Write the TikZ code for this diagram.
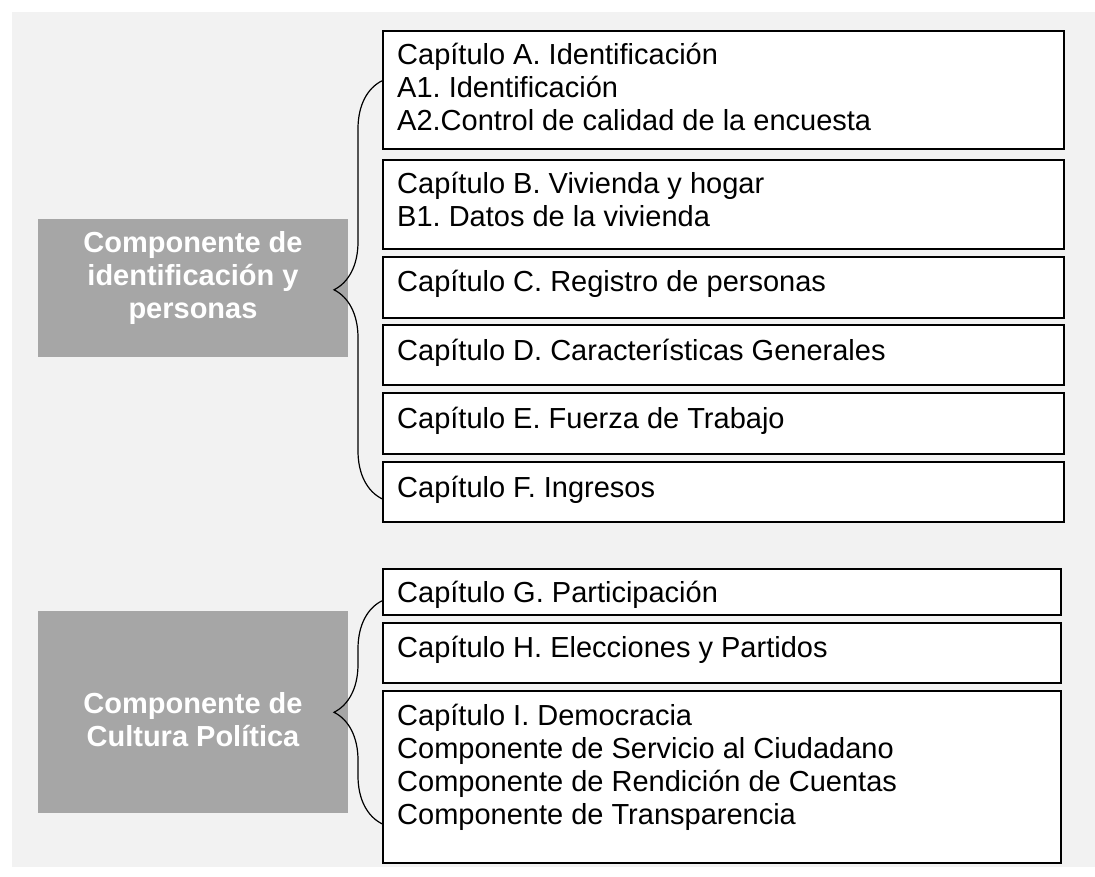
\documentclass[tikz,border=0pt]{standalone}
\usepackage{fontspec}
\setmainfont{Liberation Sans}
\usetikzlibrary{positioning,decorations.pathreplacing}
\frenchspacing
\definecolor{backgr}{HTML}{F2F2F2}
\definecolor{compgray}{HTML}{A6A6A6}
\tikzstyle{chapter} = [draw, line width=1.6pt, fill=white, anchor=north west, minimum width=681pt, inner sep=0pt]
\tikzstyle{chaptext} = [anchor=base west, align=left, inner sep=0pt, font=\fontsize{29}{33}\selectfont]
\tikzstyle{component} = [fill=compgray, anchor=north west, minimum width=310pt, inner sep=0pt]
\tikzstyle{comptext} = [anchor=base, align=center, text=white, inner sep=0pt, font=\fontsize{29}{33}\selectfont\bfseries]
\tikzstyle{bracket} = [draw, line width=1.2pt, decorate, decoration={brace, amplitude=48pt}]

\begin{document}
\begin{tikzpicture}[x=1pt, y=-1pt]
		\useasboundingbox (0,0) rectangle (1095,877);
		\fill[backgr] (12,12) rectangle (1095,867);
		% componentes (base = ultima linea)
		\node[component, minimum height=138pt] (ident) at (38,219) {};
		\node[component, minimum height=202pt] (cultura) at (38,611) {};
		\node[comptext] (identtxt) at (193,319) {Componente de\\identificación y\\personas};
		\node[comptext] (culturatxt) at (193,746) {Componente de\\Cultura Política};
		% capitulos
		\node[chapter, minimum height=118pt] (capa) at (382,30) {};
		\node[chapter, minimum height=89pt] (capb) at (382,159) {};
		\node[chapter, minimum height=61pt] (capc) at (382,256) {};
		\node[chapter, minimum height=60pt] (capd) at (382,324) {};
		\node[chapter, minimum height=61pt] (cape) at (382,392) {};
		\node[chapter, minimum height=60pt] (capf) at (382,461) {};
		\node[chapter, minimum width=678pt, minimum height=46pt] (capg) at (382,568) {};
		\node[chapter, minimum width=678pt, minimum height=60pt] (caph) at (382,622) {};
		\node[chapter, minimum width=678pt, minimum height=172pt] (capi) at (382,690) {};
		\node[chaptext] (capatxt) at ([shift={(15,101)}]capa.north west) {Capítulo A. Identificación\\A1. Identificación\\A2.Control de calidad de la encuesta};
		\node[chaptext] (capbtxt) at ([shift={(15,68)}]capb.north west) {Capítulo B. Vivienda y hogar\\B1. Datos de la vivienda};
		\node[chaptext] (capctxt) at ([shift={(15,36)}]capc.north west) {Capítulo C. Registro de personas};
		\node[chaptext] (capdtxt) at ([shift={(15,36)}]capd.north west) {Capítulo D. Características Generales};
		\node[chaptext] (capetxt) at ([shift={(15,36)}]cape.north west) {Capítulo E. Fuerza de Trabajo};
		\node[chaptext] (capftxt) at ([shift={(15,36)}]capf.north west) {Capítulo F. Ingresos};
		\node[chaptext] (capgtxt) at ([shift={(15,34)}]capg.north west) {Capítulo G. Participación};
		\node[chaptext] (caphtxt) at ([shift={(15,35)}]caph.north west) {Capítulo H. Elecciones y Partidos};
		\node[chaptext] (capitxt) at ([shift={(15,134)}]capi.north west) {Capítulo I. Democracia\\Componente de Servicio al Ciudadano\\Componente de Rendición de Cuentas\\Componente de Transparencia};
		% llaves
		\coordinate (ltop) at ([yshift=9pt]capa.west);
		\coordinate (lbot) at ([yshift=-7pt]capf.west);
		\coordinate (mtop) at ([yshift=-9pt]capg.west);
		\coordinate (mbot) at ([yshift=-47pt]capi.west);
		\draw[bracket] (lbot) -- (ltop);
		\draw[bracket] (mbot) -- (mtop);
\end{tikzpicture}
\end{document}
